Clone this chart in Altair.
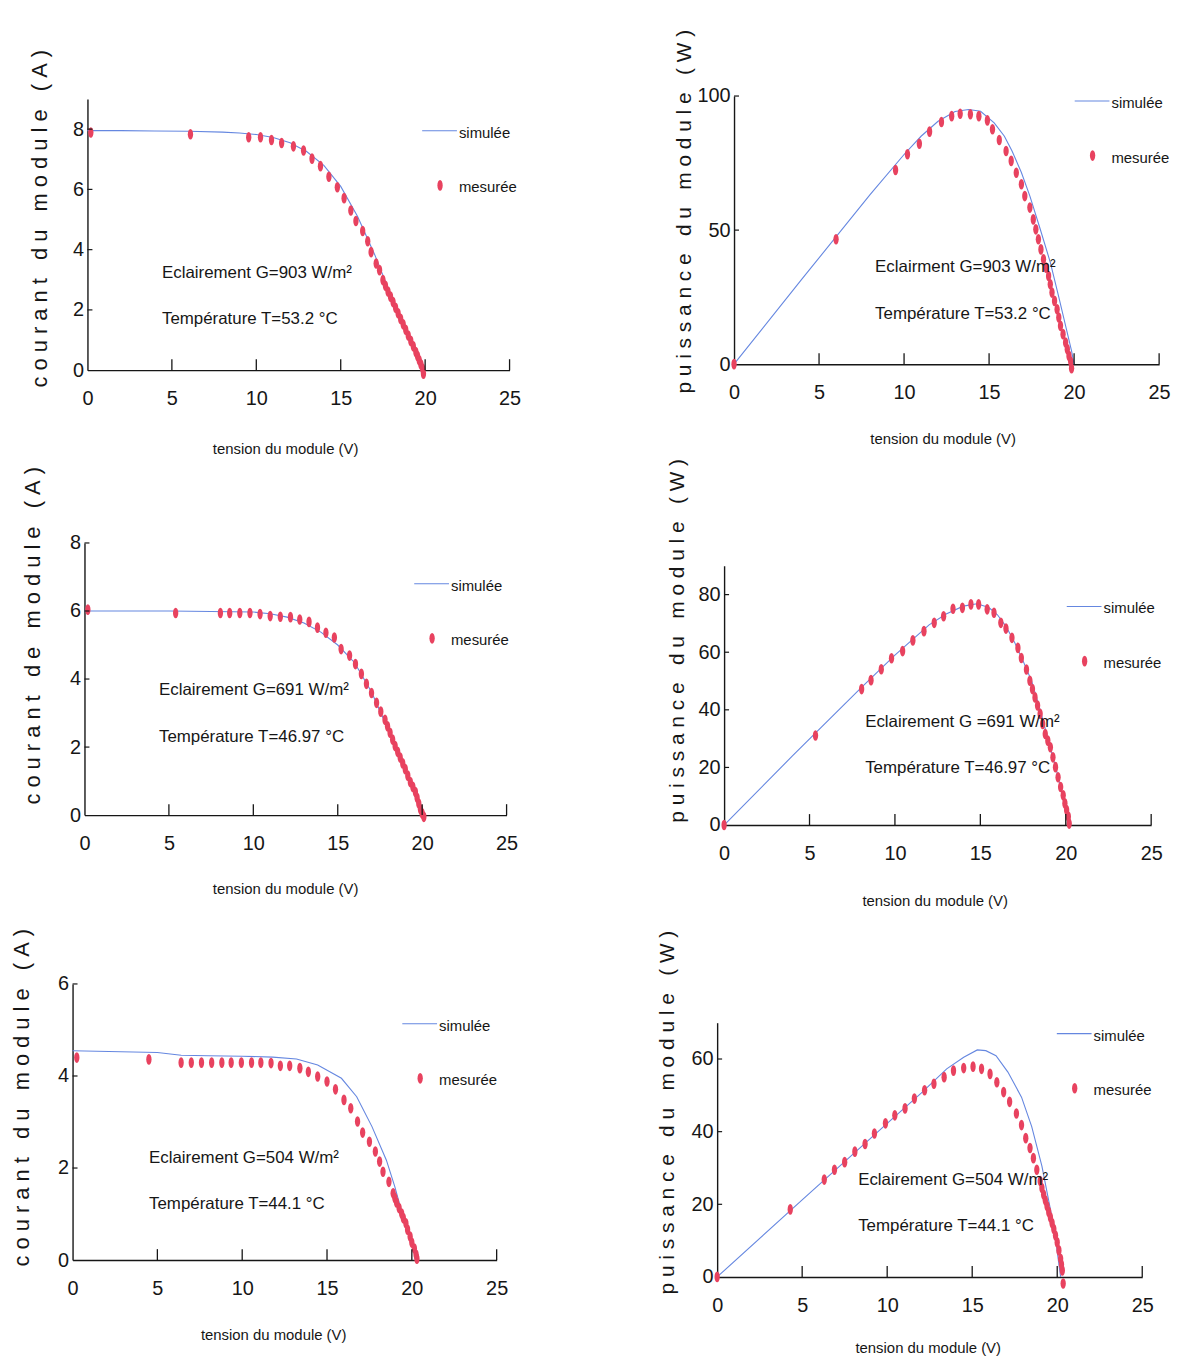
import altair as alt
import pandas as pd

# ---------------- data ----------------
X_TICKS = [0, 5, 10, 15, 20, 25]
X_INNER_TICKS = [5, 10, 15, 20, 25]

# Panel 1 : I-V, G=903 W/m2, T=53.2 C
v1_meas = [0.2, 6.1, 9.55, 10.25, 10.9, 11.5, 12.2, 12.8, 13.3, 13.8, 14.3, 14.8, 15.2, 15.6, 15.9,
           16.3, 16.6, 16.8, 17.1, 17.3, 17.5, 17.65, 17.8, 17.95, 18.1, 18.25, 18.4, 18.55, 18.7,
           18.85, 19.0, 19.15, 19.3, 19.45, 19.55, 19.65, 19.75, 19.85, 19.9]
i1_meas = [7.89, 7.83, 7.73, 7.73, 7.64, 7.54, 7.43, 7.29, 7.02, 6.77, 6.42, 6.07, 5.71, 5.30, 4.95,
           4.62, 4.28, 3.92, 3.54, 3.32, 2.99, 2.80, 2.61, 2.44, 2.26, 2.07, 1.89, 1.70, 1.52,
           1.34, 1.15, 0.97, 0.79, 0.60, 0.47, 0.33, 0.19, 0.05, -0.12]
v1_sim = [0, 2, 4, 6, 8, 9, 10, 11, 12, 13, 14, 15, 16, 17, 18, 19, 19.5, 19.95]
i1_sim = [7.95, 7.95, 7.94, 7.93, 7.9, 7.87, 7.82, 7.72, 7.55, 7.25, 6.8, 6.1, 5.1, 3.85, 2.45, 1.05, 0.45, 0]

# Panel 2 : P-V, G=903 W/m2
v2_meas = [0, 6.0, 9.5, 10.2, 10.9, 11.5, 12.2, 12.8, 13.3, 13.9, 14.4, 14.9, 15.2, 15.6, 16.0, 16.3,
           16.6, 16.9, 17.1, 17.4, 17.6, 17.75, 17.9, 18.05, 18.2, 18.35, 18.5, 18.6, 18.7, 18.85,
           19.0, 19.1, 19.2, 19.35, 19.5, 19.6, 19.7, 19.8, 19.85]
p2_meas = [0, 46.6, 72.4, 78.3, 82.2, 86.7, 90.3, 92.5, 93.4, 93.2, 92.5, 90.9, 87.6, 83.6, 79.5, 75.8,
           71.4, 67.1, 62.7, 58.4, 54.0, 50.3, 46.6, 42.8, 39.1, 36.0, 32.9, 29.8, 26.7, 23.6,
           20.5, 17.4, 14.3, 11.2, 8.1, 5.6, 3.1, 1.0, -1.5]
v2_sim = [0, 4, 8, 10, 11, 12, 13, 13.8, 14.5, 15.3, 15.9, 16.35, 16.9, 17.4, 18.0, 18.6, 19.1, 19.55, 19.85, 20.0]
p2_sim = [0, 31.8, 63.2, 78.2, 85, 90.6, 94.2, 95, 94.3, 90, 85, 79.5, 71.5, 62.7, 50.5, 38, 25, 13, 5, 0]

# Panel 3 : I-V, G=691 W/m2, T=46.97 C
v3_meas = [0.2, 5.4, 8.05, 8.6, 9.2, 9.8, 10.4, 11.0, 11.6, 12.2, 12.75, 13.3, 13.8, 14.3, 14.8, 15.2,
           15.7, 16.05, 16.4, 16.7, 17.0, 17.3, 17.55, 17.8, 17.95, 18.1, 18.25, 18.4, 18.55, 18.7,
           18.85, 19.0, 19.15, 19.3, 19.45, 19.6, 19.7, 19.8, 19.9, 20.0, 20.1]
i3_meas = [6.04, 5.94, 5.94, 5.94, 5.94, 5.94, 5.91, 5.85, 5.83, 5.82, 5.75, 5.68, 5.51, 5.36, 5.22, 4.88,
           4.69, 4.44, 4.15, 3.86, 3.59, 3.30, 3.04, 2.80, 2.61, 2.42, 2.22, 2.03, 1.86, 1.69,
           1.52, 1.35, 1.16, 0.97, 0.83, 0.68, 0.51, 0.34, 0.17, 0.05, -0.05]
v3_sim = [0, 5, 10, 11, 12, 13, 14, 15, 16, 17, 18, 19, 19.6, 20.1]
i3_sim = [6.0, 6.0, 5.97, 5.92, 5.82, 5.65, 5.38, 5.0, 4.48, 3.62, 2.5, 1.32, 0.62, 0]

# Panel 4 : P-V, G=691 W/m2
v4_meas = [0, 5.35, 8.05, 8.6, 9.2, 9.8, 10.45, 11.05, 11.7, 12.3, 12.85, 13.4, 13.95, 14.45, 14.9,
           15.4, 15.8, 16.2, 16.5, 16.85, 17.2, 17.4, 17.7, 17.9, 18.05, 18.2, 18.35, 18.5, 18.65,
           18.8, 18.95, 19.1, 19.25, 19.4, 19.55, 19.7, 19.85, 19.95, 20.05, 20.15, 20.2]
p4_meas = [0, 31.1, 47.2, 50.3, 54.1, 57.9, 60.4, 64.1, 67.3, 70.2, 72.5, 75.1, 75.4, 76.6, 76.6,
           74.9, 73.7, 70.2, 68.2, 65.0, 61.5, 58.0, 54.0, 50.1, 47.2, 44.3, 41.5, 38.6, 35.1,
           31.6, 29.3, 27.0, 23.5, 20.1, 16.6, 13.2, 10.3, 7.5, 5.2, 2.9, 0.5]
v4_sim = [0, 4, 8, 10, 12, 13, 14, 14.8, 15.5, 16, 16.5, 17, 17.5, 18, 18.5, 19, 19.5, 20, 20.2]
p4_sim = [0, 24, 47.5, 59, 69.5, 73.3, 76, 76.8, 75.5, 73, 69, 63.5, 57, 50, 40, 29, 18, 5, 0]

# Panel 5 : I-V, G=504 W/m2, T=44.1 C
v5_meas = [0.25, 4.5, 6.4, 7.0, 7.6, 8.2, 8.8, 9.35, 9.95, 10.55, 11.1, 11.7, 12.25, 12.8, 13.4, 13.9,
           14.45, 15.0, 15.5, 16.0, 16.4, 16.8, 17.1, 17.5, 17.85, 18.1, 18.3, 18.65, 18.9, 19.0,
           19.1, 19.25, 19.4, 19.5, 19.65, 19.75, 19.9, 20.0, 20.15, 20.25, 20.3]
i5_meas = [4.40, 4.36, 4.29, 4.29, 4.29, 4.29, 4.29, 4.29, 4.29, 4.29, 4.29, 4.28, 4.22, 4.22, 4.17, 4.09,
           3.99, 3.88, 3.71, 3.48, 3.30, 3.01, 2.77, 2.57, 2.36, 2.14, 1.92, 1.70, 1.45, 1.35,
           1.25, 1.13, 1.01, 0.91, 0.80, 0.66, 0.51, 0.38, 0.25, 0.12, 0.03]
v5_sim = [0, 5, 6.4, 8, 10, 11.8, 13.2, 14.45, 15.85, 16.75, 17.65, 18.5, 19.0, 19.4, 19.9, 20.3]
i5_sim = [4.55, 4.51, 4.45, 4.44, 4.43, 4.41, 4.37, 4.24, 3.95, 3.55, 2.90, 2.17, 1.59, 1.05, 0.5, 0]

# Panel 6 : P-V, G=504 W/m2
v6_meas = [0, 4.3, 6.3, 6.9, 7.5, 8.1, 8.7, 9.25, 9.9, 10.45, 11.05, 11.6, 12.2, 12.75, 13.35, 13.9,
           14.5, 15.05, 15.55, 16.05, 16.45, 16.85, 17.2, 17.6, 17.9, 18.15, 18.4, 18.6, 18.8, 19.0,
           19.1, 19.2, 19.3, 19.4, 19.5, 19.6, 19.7, 19.8, 19.9, 20.0, 20.1, 20.2, 20.25, 20.3, 20.35]
p6_meas = [0, 18.6, 26.8, 29.5, 31.6, 34.5, 36.6, 39.5, 42.3, 44.5, 46.4, 49.1, 51.4, 53.2, 55.0, 56.8,
           57.5, 57.9, 57.3, 55.9, 53.6, 50.9, 48.2, 45.0, 41.8, 38.2, 35.5, 32.7, 29.5, 26.4,
           24.5, 22.7, 21.1, 19.5, 17.9, 16.4, 14.8, 13.2, 11.4, 9.5, 7.3, 5.0, 3.4, 1.8, -1.8]
v6_sim = [0, 5, 10, 12, 13.5, 14.5, 15.3, 15.8, 16.4, 17.1, 17.9, 18.5, 19.1, 19.6, 19.9, 20.2]
p6_sim = [0, 21.2, 42.3, 50.6, 57.3, 60.5, 62.5, 62.3, 60.9, 56.4, 49.5, 41.4, 30.5, 18.6, 10.5, 0]

Y_TICKS_1 = [0, 2, 4, 6, 8]
Y_TICKS_2 = [0, 50, 100]
Y_TICKS_3 = [0, 2, 4, 6, 8]
Y_TICKS_4 = [0, 20, 40, 60, 80]
Y_TICKS_5 = [0, 2, 4, 6]
Y_TICKS_6 = [0, 20, 40, 60]

LEGEND_LABELS = ["simulée", "mesurée"]
X_TITLE = "tension du module (V)"
Y_TITLES = ["courant du module (A)", "puissance du module (W)", "courant de module (A)",
            "puissance du module (W)", "courant du module (A)", "puissance du module (W)"]
ANNOTATIONS = [
    ["Eclairement G=903 W/m²", "Température T=53.2 °C"],
    ["Eclairment G=903 W/m²", "Température T=53.2 °C"],
    ["Eclairement G=691 W/m²", "Température T=46.97 °C"],
    ["Eclairement G =691 W/m²", "Température T=46.97 °C"],
    ["Eclairement G=504 W/m²", "Température T=44.1 °C"],
    ["Eclairement G=504 W/m²", "Température T=44.1 °C"],
]

# ---------------- style / layout ----------------
RED = "#e8425f"
BLUE = "#6587e0"
INK = "#161616"
FONT = "Liberation Sans, Arial, sans-serif"
ELLIPSE = "M0,-1A0.5,1,0,1,1,0,1A0.5,1,0,1,1,0,-1Z"
W = 446

# H: group height, hp: plot height (blank area above), xoff/w: x-range inside the group
LAYOUT = [
    dict(H=308, hp=273, xoff=15, w=425, ymax=9, tx=214, ty=79, yx=-48, yy=155, yfs=22, leg=(337, 32), ann=(75, 175)),
    dict(H=302, hp=270, xoff=17, w=428, ymax=100, tx=227, ty=75, yx=-50, yy=148, yfs=21, leg=(343, 5), ann=(142, 172)),
    dict(H=298, hp=274, xoff=12, w=425, ymax=8, tx=214, ty=74, yx=-52, yy=117, yfs=22, leg=(332, 41), ann=(75, 148)),
    dict(H=308, hp=261, xoff=7, w=430, ymax=90, tx=219, ty=76, yx=-47, yy=122, yfs=21, leg=(345, 41), ann=(142, 157)),
    dict(H=288, hp=278, xoff=0, w=427, ymax=6, tx=202, ty=75, yx=-51, yy=124, yfs=22, leg=(332, 40), ann=(77, 175)),
    dict(H=305, hp=256, xoff=0, w=428, ymax=70, tx=212, ty=71, yx=-50, yy=139, yfs=21, leg=(342, 11), ann=(142, 158)),
]

NB = "\u00a0"


def spaced(t):
    return (NB * 3).join(NB.join(word) for word in t.split(" "))


ONE = pd.DataFrame({"k": [0]})


def panel(vm, ym, vs, ys, yticks, ytitle, ann, L):
    H, hp, xoff, w = L["H"], L["hp"], L["xoff"], L["w"]
    top = H - hp
    xs = alt.Scale(domain=[0, 25], range=[xoff, xoff + w], nice=False, zero=False)
    ysc = alt.Scale(domain=[0, L["ymax"]], range=[H, top], nice=False, zero=False)
    xax = alt.Axis(values=X_TICKS, ticks=False, grid=False, domainColor=INK, domainWidth=1.4,
                   labelFont=FONT, labelFontSize=20, labelColor=INK, labelPadding=19,
                   labelFlush=False, format="d",
                   title=X_TITLE, titleFont=FONT, titleFontSize=15, titleFontWeight="normal",
                   titleColor=INK, titleX=L["tx"], titleY=L["ty"], titleAlign="center",
                   titleBaseline="middle")
    yax = alt.Axis(values=yticks, ticks=False, grid=False, domainColor=INK, domainWidth=1.4,
                   offset=-xoff, labelFont=FONT, labelFontSize=20, labelColor=INK, labelPadding=4,
                   format="d",
                   title=spaced(ytitle), titleFont=FONT, titleFontSize=L["yfs"], titleFontWeight="normal",
                   titleColor=INK, titleAngle=270, titleX=L["yx"], titleY=L["yy"],
                   titleAlign="center", titleBaseline="middle")

    sim = pd.DataFrame({"v": vs, "y": ys})
    meas = pd.DataFrame({"v": vm, "y": ym})
    xt = pd.DataFrame({"t": X_INNER_TICKS})
    yt = pd.DataFrame({"t": yticks[1:]})

    line = alt.Chart(sim).mark_line(color=BLUE, strokeWidth=1.1).encode(
        x=alt.X("v:Q", scale=xs, axis=xax), y=alt.Y("y:Q", scale=ysc, axis=yax))
    pts = alt.Chart(meas).mark_point(shape=ELLIPSE, filled=True, size=115, color=RED, opacity=1,
                                     strokeWidth=0).encode(
        x=alt.X("v:Q", scale=xs, axis=xax), y=alt.Y("y:Q", scale=ysc, axis=yax))
    xticks = alt.Chart(xt).mark_rule(color=INK, strokeWidth=1.3).encode(
        x=alt.X("t:Q", scale=xs, axis=xax), y=alt.value(H), y2=alt.value(H - 11))
    yticks_m = alt.Chart(yt).mark_rule(color=INK, strokeWidth=1.2).encode(
        y=alt.Y("t:Q", scale=ysc, axis=yax), x=alt.value(xoff), x2=alt.value(xoff + 5))

    lx, ly = L["leg"]
    lx += xoff
    ly += top
    leg_line = alt.Chart(ONE).mark_rule(color=BLUE, strokeWidth=1.1).encode(
        x=alt.value(lx), x2=alt.value(lx + 35), y=alt.value(ly))
    leg_pt = alt.Chart(ONE).mark_point(shape=ELLIPSE, filled=True, size=115, color=RED, opacity=1,
                                       strokeWidth=0).encode(
        x=alt.value(lx + 18), y=alt.value(ly + 55))
    leg_t1 = alt.Chart(ONE).mark_text(align="left", baseline="middle", font=FONT, fontSize=15,
                                      color=INK).encode(
        x=alt.value(lx + 37), y=alt.value(ly + 2), text=alt.value(LEGEND_LABELS[0]))
    leg_t2 = alt.Chart(ONE).mark_text(align="left", baseline="middle", font=FONT, fontSize=15,
                                      color=INK).encode(
        x=alt.value(lx + 37), y=alt.value(ly + 57), text=alt.value(LEGEND_LABELS[1]))

    ax_, ay_ = L["ann"]
    ann1 = alt.Chart(ONE).mark_text(align="left", baseline="middle", font=FONT, fontSize=17,
                                    color=INK).encode(
        x=alt.value(xoff + ax_), y=alt.value(top + ay_), text=alt.value(ann[0]))
    ann2 = alt.Chart(ONE).mark_text(align="left", baseline="middle", font=FONT, fontSize=17,
                                    color=INK).encode(
        x=alt.value(xoff + ax_), y=alt.value(top + ay_ + 47), text=alt.value(ann[1]))

    return alt.layer(line, pts, xticks, yticks_m, leg_line, leg_pt, leg_t1, leg_t2, ann1, ann2).properties(
        width=W, height=H)


series = [
    (v1_meas, i1_meas, v1_sim, i1_sim, Y_TICKS_1),
    (v2_meas, p2_meas, v2_sim, p2_sim, Y_TICKS_2),
    (v3_meas, i3_meas, v3_sim, i3_sim, Y_TICKS_3),
    (v4_meas, p4_meas, v4_sim, p4_sim, Y_TICKS_4),
    (v5_meas, i5_meas, v5_sim, i5_sim, Y_TICKS_5),
    (v6_meas, p6_meas, v6_sim, p6_sim, Y_TICKS_6),
]

panels = [panel(s[0], s[1], s[2], s[3], s[4], Y_TITLES[k], ANNOTATIONS[k], LAYOUT[k])
          for k, s in enumerate(series)]

chart = alt.concat(*panels, columns=2, spacing={"row": 150, "column": 203},
                   bounds="flush", background="white",
                   autosize=alt.AutoSizeParams(type="none"),
                   padding={"left": 65, "top": 52, "right": 1112, "bottom": 1302}
                   ).configure_view(stroke="transparent", strokeWidth=0)

chart.save("out.html", embed_options={"renderer": "svg", "actions": False})
